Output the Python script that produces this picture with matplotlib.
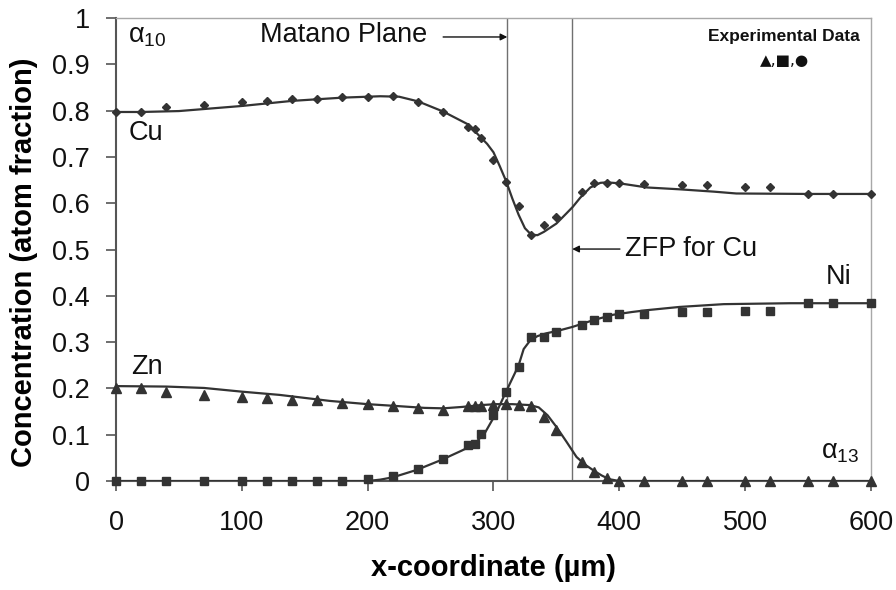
import matplotlib
matplotlib.use("Agg")
import matplotlib.pyplot as plt

plt.rcParams['font.family'] = ['Liberation Sans', 'DejaVu Sans']
plt.rcParams['mathtext.fontset'] = 'custom'
plt.rcParams['mathtext.rm'] = 'Liberation Sans'
plt.rcParams['mathtext.it'] = 'Liberation Sans'

# Measured concentrations (atom fraction) at each position (µm)
x_exp = [0, 20, 40, 70, 100, 120, 140, 160, 180, 200, 220, 240, 260, 280, 285, 290,
         300, 310, 320, 330, 340, 350, 370, 380, 390, 400, 420, 450, 470, 500, 520,
         550, 570, 600]
cu_exp = [0.797, 0.796, 0.807, 0.813, 0.819, 0.821, 0.825, 0.826, 0.829, 0.829, 0.832,
          0.819, 0.798, 0.765, 0.761, 0.741, 0.693, 0.645, 0.594, 0.531, 0.552, 0.570,
          0.625, 0.643, 0.644, 0.643, 0.642, 0.639, 0.639, 0.636, 0.636, 0.620, 0.620,
          0.620]
ni_exp = [0, 0, 0, 0, 0, 0, 0, 0, 0, 0.005, 0.011, 0.026, 0.048, 0.078, 0.080, 0.101,
          0.143, 0.192, 0.247, 0.311, 0.310, 0.321, 0.337, 0.348, 0.354, 0.361, 0.361,
          0.364, 0.364, 0.368, 0.368, 0.384, 0.384, 0.384]
zn_exp = [0.200, 0.201, 0.193, 0.186, 0.181, 0.179, 0.176, 0.175, 0.168, 0.166, 0.161,
          0.158, 0.153, 0.161, 0.161, 0.162, 0.164, 0.166, 0.164, 0.163, 0.139, 0.110,
          0.042, 0.020, 0.006, 0, 0, 0, 0, 0, 0, 0, 0, 0]

# Calculated profiles
cu_fit_x = [0, 20, 50, 100, 140, 180, 210, 225, 240, 260, 280, 290, 295, 300, 305, 310,
            315, 320, 325, 330, 335, 340, 350, 358, 363, 369, 377, 385, 390, 400, 422,
            448, 475, 493, 550, 600]
cu_fit_y = [0.797, 0.797, 0.799, 0.810, 0.821, 0.828, 0.831, 0.830, 0.820, 0.798, 0.770,
            0.742, 0.728, 0.710, 0.680, 0.648, 0.610, 0.575, 0.546, 0.532, 0.531, 0.538,
            0.556, 0.578, 0.592, 0.612, 0.634, 0.644, 0.645, 0.643, 0.634, 0.630, 0.625,
            0.621, 0.620, 0.620]

zn_fit_x = [0, 40, 70, 100, 130, 170, 200, 223, 245, 260, 275, 290, 302, 315, 329, 336,
            343, 350, 358, 366, 373, 380, 386, 392, 400, 600]
zn_fit_y = [0.205, 0.204, 0.201, 0.193, 0.186, 0.173, 0.166, 0.162, 0.158, 0.157, 0.160,
            0.164, 0.166, 0.166, 0.164, 0.159, 0.142, 0.117, 0.085, 0.052, 0.035, 0.022,
            0.012, 0.004, 0.0, 0.0]

ni_fit_x = [0, 200, 210, 220, 239, 259, 275, 284, 293, 302, 310, 320, 324, 329, 335, 342,
            352, 363, 380, 395, 410, 422, 448, 483, 536, 600]
ni_fit_y = [0, 0, 0.003, 0.008, 0.024, 0.046, 0.066, 0.078, 0.103, 0.146, 0.193, 0.250,
            0.285, 0.303, 0.313, 0.319, 0.325, 0.333, 0.348, 0.359, 0.365, 0.369, 0.376,
            0.382, 0.384, 0.384]

matano_x = 311
zfp_x = 362.6

x_ticks = [0, 100, 200, 300, 400, 500, 600]
y_ticks = [0, 0.1, 0.2, 0.3, 0.4, 0.5, 0.6, 0.7, 0.8, 0.9, 1]
y_tick_labels = ['0', '0.1', '0.2', '0.3', '0.4', '0.5', '0.6', '0.7', '0.8', '0.9', '1']

dark = '#333333'

fig = plt.figure(figsize=(8.96, 5.90), dpi=100)
ax = fig.add_axes([0.1295, 0.1847, 0.8425, 0.7848])

ax.plot(cu_fit_x, cu_fit_y, color=dark, lw=1.6, zorder=3)
ax.plot(zn_fit_x, zn_fit_y, color=dark, lw=1.6, zorder=3)
ax.plot(ni_fit_x, ni_fit_y, color=dark, lw=1.6, zorder=3)

ax.plot(x_exp, cu_exp, linestyle='none', marker='D', ms=4, color=dark, zorder=4,
        clip_on=False)
ax.plot(x_exp, ni_exp, linestyle='none', marker='s', ms=5.5, color=dark, zorder=4,
        clip_on=False)
ax.plot(x_exp, zn_exp, linestyle='none', marker='^', ms=7, color=dark, zorder=4,
        clip_on=False)

ax.axvline(matano_x, color='#707070', lw=1.0, zorder=2)
ax.axvline(zfp_x, color='#707070', lw=1.0, zorder=2)

ax.set_xlim(0, 600)
ax.set_ylim(0, 1)
ax.set_xticks(x_ticks)
ax.set_yticks(y_ticks)
ax.set_yticklabels(y_tick_labels)
ax.tick_params(axis='both', direction='out', length=7, width=1.2, color='#555555',
               labelsize=19.5, labelcolor='#111111')
ax.tick_params(axis='y', pad=12)
ax.tick_params(axis='x', pad=14)

for side in ('left', 'bottom'):
    ax.spines[side].set_color('#555555')
    ax.spines[side].set_linewidth(1.5)
for side in ('top', 'right'):
    ax.spines[side].set_color('#a8a8a8')
    ax.spines[side].set_linewidth(1.0)

ax.set_xlabel('x-coordinate (µm)', fontsize=21, fontweight='bold')
ax.set_ylabel('Concentration (atom fraction)', fontsize=21, fontweight='bold')
ax.xaxis.set_label_coords(0.5, -0.188)
ax.xaxis.label.set_va('center')
ax.yaxis.set_label_coords(-0.1219, 0.473)
ax.yaxis.label.set_va('center')

txt = dict(fontsize=19.5, color='#111111', ha='center', va='center')
ax.text(24.5, 0.961, r'$\alpha_{10}$', **txt)
ax.text(575.4, 0.063, r'$\alpha_{13}$', **txt)
ax.text(24, 0.752, 'Cu', **txt)
ax.text(24.5, 0.246, 'Zn', **txt)
ax.text(574.6, 0.441, 'Ni', **txt)

ax.annotate('', xy=(matano_x, 0.959), xytext=(260, 0.959),
            arrowprops=dict(arrowstyle='-|>', color='#111111', lw=1.0,
                            mutation_scale=10, shrinkA=0, shrinkB=0))
ax.text(181, 0.963, 'Matano Plane', **txt)

ax.annotate('', xy=(zfp_x, 0.501), xytext=(400.5, 0.501),
            arrowprops=dict(arrowstyle='-|>', color='#111111', lw=1.0,
                            mutation_scale=10, shrinkA=0, shrinkB=0))
ax.text(457.4, 0.501, 'ZFP for Cu', **txt)

ax.text(531, 0.961, 'Experimental Data', fontsize=12.5, fontweight='bold',
        color='#111111', ha='center', va='center')
ax.text(531, 0.909, '▲,■,●', fontsize=11, color='#111111', ha='center', va='center',
        family=['DejaVu Sans'])

fig.savefig('out.png', dpi=100)
